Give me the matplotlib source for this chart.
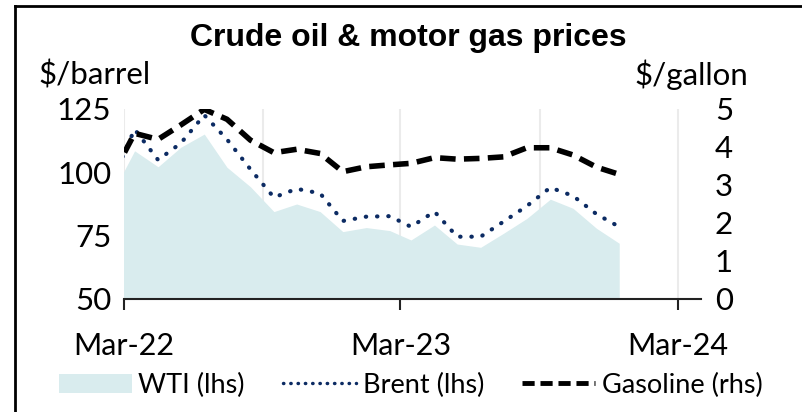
import matplotlib
matplotlib.use('Agg')
import matplotlib.pyplot as plt
import matplotlib.dates as mdates
from matplotlib.lines import Line2D
from matplotlib.patches import Patch
import pandas as pd

# monthly averages, Feb-22 .. Dec-23 (plotted mid-month)
months = pd.date_range('2022-02-01', '2023-12-01', freq='MS') + pd.Timedelta(days=14)
wti = [92.5, 108.5, 102.2, 109.9, 115.1, 102.0, 94.3, 84.5, 87.5, 84.5, 76.6, 78.2,
       77.0, 73.3, 79.2, 71.7, 70.4, 75.9, 81.8, 89.4, 85.8, 77.9, 72.0]
brent = [98.0, 117.0, 104.9, 111.5, 122.6, 113.0, 101.2, 90.1, 93.5, 91.7, 80.8, 82.5,
         82.7, 78.5, 84.5, 74.6, 74.6, 80.5, 86.7, 94.0, 90.7, 83.5, 78.5]
gasoline = [3.30, 4.36, 4.20, 4.58, 4.99, 4.73, 4.18, 3.85, 3.94, 3.83, 3.35, 3.48,
            3.53, 3.57, 3.72, 3.68, 3.70, 3.74, 3.98, 3.98, 3.79, 3.47, 3.28]

plt.rcParams['font.family'] = ['Lato', 'DejaVu Sans']

fig = plt.figure(figsize=(8.02, 4.12), dpi=100)
ax = fig.add_axes([124/802, 1-299/412, (701-124)/802, (299-109)/412])
ax2 = ax.twinx()

wti_col = '#d9ecee'
brent_col = '#0c2b63'

ax.fill_between(months, 50, wti, color=wti_col, lw=0, zorder=1)
ax.plot(months, brent, color=brent_col, lw=3, linestyle=(0, (0.1, 2.6)),
        dash_capstyle='round', zorder=3)
ax2.plot(months, gasoline, color='black', lw=4, linestyle=(0, (2.8, 1.5)), zorder=3)

ax.set_xlim(pd.Timestamp('2022-03-01'), pd.Timestamp('2024-04-01'))
ax.set_ylim(50, 125)
ax2.set_ylim(0, 5)
ax.set_yticks([50, 75, 100, 125])
ax2.set_yticks([0, 1, 2, 3, 4, 5])

ax.xaxis.set_major_locator(mdates.MonthLocator(bymonth=3))
ax.xaxis.set_minor_locator(mdates.MonthLocator(bymonth=9))
ax.xaxis.set_major_formatter(mdates.DateFormatter('%b-%y'))
ax.grid(axis='x', which='both', color='#ebebeb', lw=1.5, zorder=0)
ax.set_axisbelow(True)

for a in (ax, ax2):
    for s in ('top', 'left', 'right'):
        a.spines[s].set_visible(False)
ax2.spines['bottom'].set_visible(False)
ax.spines['bottom'].set_color('#222222')
ax.spines['bottom'].set_linewidth(1.5)

ax.tick_params(axis='x', which='major', length=8, width=1.5, color='#222222',
               labelsize=22, pad=16)
ax.tick_params(axis='x', which='minor', length=0)
ax.tick_params(axis='y', length=0, labelsize=22.5, pad=9)
ax2.tick_params(axis='y', length=0, labelsize=22.5, pad=10)

fig.text(0.509, 1-38/412, 'Crude oil & motor gas prices', ha='center', va='center',
         fontsize=23, fontweight='bold', family='Liberation Sans')
fig.text(38/802, 1-75/412, '$/barrel', ha='left', va='center', fontsize=22.5)
fig.text(748/802, 1-75/412, '$/gallon', ha='right', va='center', fontsize=22.5)

handles = [Patch(facecolor=wti_col, edgecolor='none'),
           Line2D([], [], color=brent_col, lw=2.5, linestyle=(0, (0.1, 2.0)),
                  dash_capstyle='round'),
           Line2D([], [], color='black', lw=3.5, linestyle=(0, (2.5, 1.2)))]
fig.legend(handles, ['WTI (lhs)', 'Brent (lhs)', 'Gasoline (rhs)'],
           loc='center', bbox_to_anchor=(0.512, 1-385/412), ncol=3, frameon=False,
           fontsize=19.5, handlelength=2.7, handleheight=0.7, handletextpad=0.25,
           columnspacing=1.4)

# frame around the chart (top and left edges visible)
fig.add_artist(Line2D([15/802, 1], [1-6/412, 1-6/412], color='black', lw=2,
                      transform=fig.transFigure))
fig.add_artist(Line2D([15/802, 15/802], [0, 1-6/412], color='black', lw=2,
                      transform=fig.transFigure))

fig.savefig('out.png', dpi=100)
